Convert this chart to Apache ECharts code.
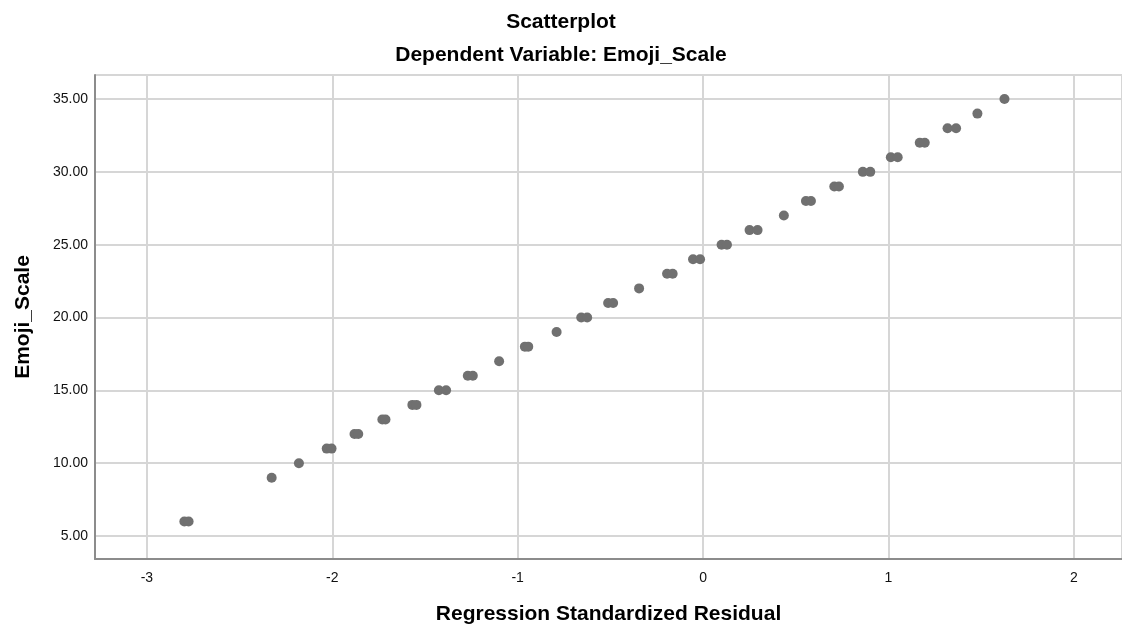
<!DOCTYPE html>
<html>
<head>
<meta charset="utf-8">
<title>Scatterplot</title>
<script src="https://cdn.jsdelivr.net/npm/echarts@6/dist/echarts.min.js"></script>
<style>
    html, body { margin: 0; padding: 0; background: #fff; }
    #main { width: 1122px; height: 630px; }
</style>
</head>
<body>
<div id="main"></div>
<script>
// Emoji_Scale 取值 (y) 与对应的标准化残差 (x)
var emojiScale = [6, 6, 9, 10, 11, 11, 12, 12, 13, 13, 14, 14, 15, 15, 16, 16, 17, 18, 18, 19,
    20, 20, 21, 21, 22, 23, 23, 24, 24, 25, 25, 26, 26, 27, 28, 28, 29, 29, 30, 30,
    31, 31, 32, 32, 33, 33, 34, 35]
var stdResidual = [-2.798, -2.775, -2.327, -2.18, -2.03, -2.004, -1.88, -1.86, -1.73, -1.713, -1.568, -1.546, -1.425, -1.386, -1.269, -1.242, -1.10, -0.961, -0.943, -0.79,
    -0.657, -0.625, -0.512, -0.485, -0.345, -0.194, -0.164, -0.054, -0.016, 0.10, 0.129, 0.251, 0.294, 0.436, 0.555, 0.582, 0.708, 0.733, 0.862, 0.902,
    1.013, 1.05, 1.169, 1.196, 1.319, 1.365, 1.48, 1.626]

var fontFamily = '"Liberation Sans", Arial, sans-serif'

function getPoints() {
    return emojiScale.map(function (v, i) {
        return [stdResidual[i], v]
    })
}

var myChart = echarts.init(document.getElementById('main'))
var option = {
    animation: false,
    backgroundColor: '#fff',
    title: [{
        text: 'Scatterplot',
        left: 'center',
        top: 10,
        padding: 0,
        textStyle: { fontFamily: fontFamily, fontSize: 21, fontWeight: 'bold', color: '#000', lineHeight: 24 }
    }, {
        text: 'Dependent Variable: Emoji_Scale',
        left: 'center',
        top: 43,
        padding: 0,
        textStyle: { fontFamily: fontFamily, fontSize: 21, fontWeight: 'bold', color: '#000', lineHeight: 24 }
    }],
    grid: {
        left: 95,
        right: 0,
        top: 75,
        bottom: 71,
        outerBoundsMode: 'none',
        containLabel: false
    },
    xAxis: {
        type: 'value',
        min: -3.28,
        max: 2.26,
        name: 'Regression Standardized Residual',
        nameLocation: 'middle',
        nameGap: 45,
        nameTextStyle: { fontFamily: fontFamily, fontSize: 21, fontWeight: 'bold', color: '#000' },
        axisLine: { onZero: false, lineStyle: { color: '#8c8c8c', width: 2 } },
        axisTick: { show: false },
        axisLabel: {
            showMinLabel: false,
            showMaxLabel: false,
            margin: 12,
            fontFamily: fontFamily,
            fontSize: 14,
            color: '#111'
        },
        splitLine: { show: true, lineStyle: { color: '#d6d6d6', width: 2 } }
    },
    yAxis: {
        type: 'value',
        min: 3.42,
        max: 36.65,
        name: 'Emoji_Scale',
        nameLocation: 'middle',
        nameGap: 61,
        nameRotate: 90,
        nameTextStyle: { fontFamily: fontFamily, fontSize: 21, fontWeight: 'bold', color: '#000' },
        axisLine: { show: true, onZero: false, lineStyle: { color: '#8c8c8c', width: 2 } },
        axisTick: { show: false },
        axisLabel: {
            showMinLabel: false,
            showMaxLabel: false,
            margin: 7,
            fontFamily: fontFamily,
            fontSize: 14,
            color: '#111',
            formatter: function (v) {
                return v.toFixed(2)
            }
        },
        splitLine: { show: true, lineStyle: { color: '#d6d6d6', width: 2 } }
    },
    series: [{
        type: 'scatter',
        data: getPoints(),
        symbol: 'circle',
        symbolSize: 10,
        itemStyle: { color: '#707070', opacity: 1 }
    }]
}

myChart.setOption(option)
</script>
</body>
</html>
